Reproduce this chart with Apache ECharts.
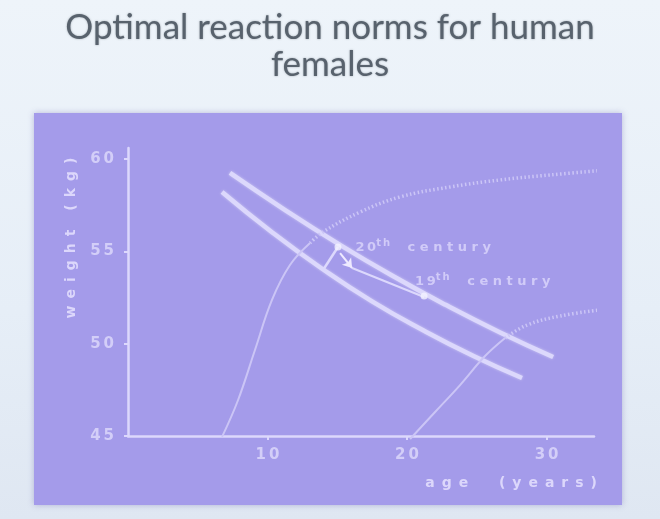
<!DOCTYPE html>
<html>
<head>
<meta charset="utf-8">
<script src="https://cdn.jsdelivr.net/npm/echarts@6/dist/echarts.min.js"></script>
<style>
html,body{margin:0;padding:0;}
body{background:linear-gradient(180deg,#eef4fa 0%,#e6eef7 60%,#dfe7f2 100%);}
#c{width:660px;height:519px;}
</style>
</head>
<body>
<div id="c"></div>
<script>
// ---- data (age in years, weight in kg) ----
const titleText = "Optimal reaction norms for human\nfemales";
const xTicks = [10, 20, 30];
const yTicks = [45, 50, 55, 60];
const xName = "age  (years)";
const yName = "weight (kg)";

// upper reaction-norm line
const upperAge    = [7.31, 11.18, 15.05, 18.92, 22.80, 26.67, 30.47];
const upperWeight = [59.25, 57.28, 55.42, 53.69, 52.09, 50.61, 49.28];
// lower reaction-norm line
const lowerAge    = [6.74, 10.32, 13.91, 17.49, 21.22, 24.80, 28.24];
const lowerWeight = [58.22, 56.04, 54.06, 52.29, 50.70, 49.32, 48.14];
// connector between the two norm lines
const connAge    = [13.98, 15.05];
const connWeight = [53.99, 55.24];
// arrow (from 20th-century point towards the 19th-century point)
const arrowAge    = [15.20, 16.06];
const arrowWeight = [54.91, 54.10];
// short segment from the arrow to the 19th-century point
const midAge    = [16.06, 21.22];
const midWeight = [54.10, 52.53];
// growth curve, 20th century (solid part then dotted part)
const grow20Age    = [6.74, 7.89, 9.10, 10.32, 11.61, 13.05];
const grow20Weight = [44.95, 46.95, 49.66, 52.37, 54.26, 55.45];
const grow20DotAge    = [13.05, 13.98, 16.63, 19.50, 23.08, 26.67, 30.25, 34.34];
const grow20DotWeight = [55.45, 56.05, 57.13, 57.95, 58.49, 58.87, 59.14, 59.41];
// growth curve, 19th century
const grow19Age    = [20.22, 22.01, 23.80, 25.59, 27.03];
const grow19Weight = [44.84, 46.30, 47.76, 49.33, 50.31];
const grow19DotAge    = [27.03, 28.60, 30.97, 33.84];
const grow19DotWeight = [50.31, 51.01, 51.50, 51.83];
// maturation points
const pointLabels = ["20th century", "19th century"];
const pointAge    = [15.05, 21.22];
const pointWeight = [55.24, 52.58];

const zip = (a, b) => a.map((v, i) => [v, b[i]]);
const sp = (s, sep) => s.split('').join(sep === undefined ? '\u2009' : sep);

const LINE = '#dcd8fc';
const THIN = '#cbc5f6';
const TXT = '#dcd7fb';
const FONT = 'DejaVu Sans';

const chart = echarts.init(document.getElementById('c'), null, {renderer: 'canvas'});
const richLab = {
  n: {fontFamily: FONT, fontWeight: 'bold', fontSize: 13, color: TXT, verticalAlign: 'bottom'},
  s: {fontFamily: FONT, fontWeight: 'bold', fontSize: 10, color: TXT, verticalAlign: 'bottom', padding: [0, 0, 6, 0]},
  c: {fontFamily: FONT, fontWeight: 'bold', fontSize: 13, color: TXT, verticalAlign: 'bottom'}
};
function fmtLabel(t) {
  const parts = t.split(' ');
  const num = parts[0].slice(0, 2), suf = parts[0].slice(2);
  return '{n|' + sp(num) + '}{s|' + sp(suf) + '}{c|\u2003 ' + sp(parts[1], ' ') + '}';
}

chart.setOption({
  backgroundColor: 'transparent',
  animation: false,
  title: {
    text: titleText,
    left: 'center',
    top: 4,
    textStyle: {fontFamily: 'Lato', fontWeight: 'normal', fontSize: 35, lineHeight: 37, color: '#58626d',
      textShadowColor: 'rgba(80,90,100,0.5)', textShadowBlur: 2}
  },
  graphic: [
    {type: 'rect', z: -100, shape: {x: 34, y: 113, width: 588, height: 392},
     style: {fill: '#a49bea', shadowColor: 'rgba(90,80,160,0.35)', shadowBlur: 6}},
    {type: 'text', z: 10, x: 71, y: 238, rotation: Math.PI / 2,
     style: {text: sp(yName, '\u2002'), fontFamily: FONT, fontWeight: 'bold', fontSize: 14, fill: TXT, align: 'center', verticalAlign: 'middle'}}
  ],
  grid: {left: 128, right: 66, top: 148, bottom: 83, containLabel: false},
  xAxis: {
    type: 'value', min: 0, max: 33.4, interval: 10,
    name: sp(xName, '\u2002'), nameLocation: 'end', nameGap: 3,
    nameTextStyle: {align: 'right', verticalAlign: 'top', padding: [40, 0, 0, 0], fontFamily: FONT, fontWeight: 'bold', fontSize: 14, color: TXT},
    axisLine: {lineStyle: {color: LINE, width: 2.5}},
    axisTick: {show: true, length: 4, lineStyle: {color: LINE, width: 2}, customValues: xTicks},
    axisLabel: {customValues: xTicks, formatter: v => sp(String(v)), margin: 12, fontFamily: FONT, fontWeight: 'bold', fontSize: 15, color: '#d3cef8'},
    splitLine: {show: false}
  },
  yAxis: {
    type: 'value', min: 45, max: 60.6, interval: 5,
    axisLine: {show: true, lineStyle: {color: LINE, width: 2.5}},
    axisTick: {show: true, length: 4, lineStyle: {color: LINE, width: 2}, customValues: yTicks},
    axisLabel: {customValues: yTicks, formatter: v => sp(String(v)), margin: 14, fontFamily: FONT, fontWeight: 'bold', fontSize: 15, color: '#d3cef8'},
    splitLine: {show: false}
  },
  series: [
    {type: 'line', data: zip(upperAge, upperWeight), smooth: true, symbol: 'none', clip: false,
     lineStyle: {color: LINE, width: 4.5, shadowColor: 'rgba(255,255,255,0.45)', shadowBlur: 3}},
    {type: 'line', data: zip(lowerAge, lowerWeight), smooth: true, symbol: 'none', clip: false,
     lineStyle: {color: LINE, width: 4.5, shadowColor: 'rgba(255,255,255,0.45)', shadowBlur: 3}},
    {type: 'line', data: zip(connAge, connWeight), symbol: 'none', clip: false,
     lineStyle: {color: LINE, width: 2.5}},
    {type: 'line', data: zip(midAge, midWeight), symbol: 'none', clip: false,
     lineStyle: {color: LINE, width: 2},
     markLine: {silent: true, symbol: ['none', 'arrow'], symbolSize: 9, label: {show: false},
       lineStyle: {color: '#eeeaff', width: 2, type: 'solid'},
       data: [[{coord: [arrowAge[0], arrowWeight[0]]}, {coord: [arrowAge[1], arrowWeight[1]]}]]}},
    {type: 'line', data: zip(grow20Age, grow20Weight), smooth: 0.4, symbol: 'none', clip: false,
     lineStyle: {color: THIN, width: 2}},
    {type: 'line', data: zip(grow20DotAge, grow20DotWeight), smooth: 0.4, symbol: 'none', clip: false,
     lineStyle: {color: THIN, width: 3.5, type: [1.5, 2.5]}},
    {type: 'line', data: zip(grow19Age, grow19Weight), smooth: 0.4, symbol: 'none', clip: false,
     lineStyle: {color: THIN, width: 2}},
    {type: 'line', data: zip(grow19DotAge, grow19DotWeight), smooth: 0.4, symbol: 'none', clip: false,
     lineStyle: {color: THIN, width: 3.5, type: [1.5, 2.5]}},
    {type: 'scatter', clip: false, symbol: 'circle', symbolSize: 7, itemStyle: {color: '#f4f2ff'}, z: 5,
     data: pointLabels.map((t, i) => ({
       value: [pointAge[i], pointWeight[i]],
       label: {show: true, formatter: fmtLabel(t), rich: richLab,
         position: i === 0 ? 'right' : 'top', align: 'left',
         offset: i === 0 ? [9, -1] : [-9, 1]}
     }))}
  ]
});
</script>
</body>
</html>
